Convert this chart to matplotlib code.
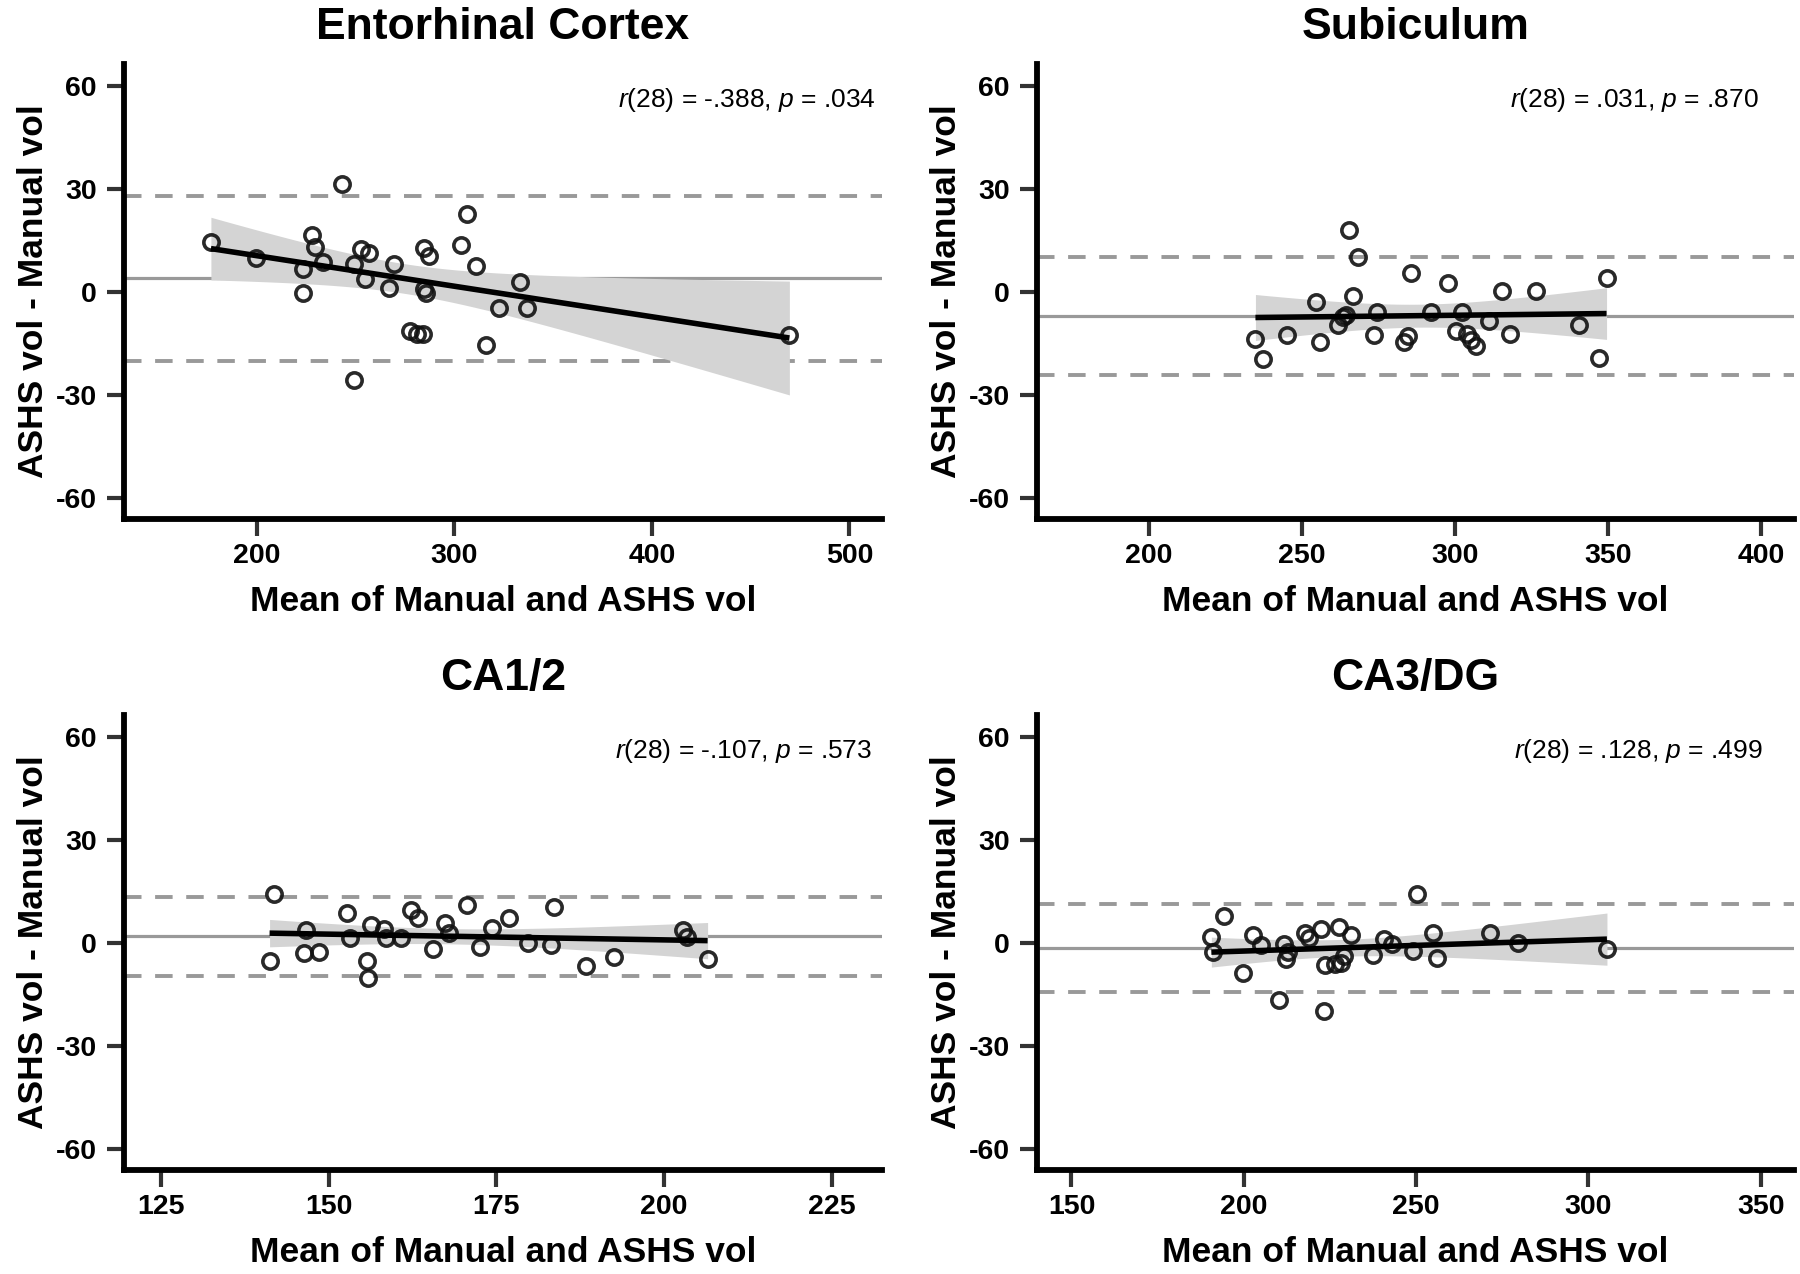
import numpy as np
import matplotlib
matplotlib.use("Agg")
import matplotlib.pyplot as plt

plt.rcParams["font.family"] = ["Liberation Sans", "DejaVu Sans"]
plt.rcParams["mathtext.fontset"] = "custom"
plt.rcParams["mathtext.it"] = "Liberation Sans:italic"
plt.rcParams["mathtext.rm"] = "Liberation Sans"
plt.rcParams["axes.unicode_minus"] = False

# ---- data (mean of methods, difference) ----
ec_mean = [176.7, 199.4, 223.3, 223.1, 228.0, 229.2, 233.6, 242.9, 249.0, 249.3,
           252.5, 256.9, 254.9, 266.8, 269.2, 277.3, 280.8, 284.0, 284.6, 287.2,
           284.6, 285.8, 303.5, 306.4, 310.8, 315.8, 322.8, 333.4, 336.8, 469.6]
ec_diff = [14.7, 10.0, 6.9, -0.2, 16.6, 13.1, 8.9, 31.6, 8.3, -25.4,
           12.6, 11.6, 4.0, 1.4, 8.3, -11.1, -12.2, -12.2, 12.9, 10.6,
           1.0, -0.2, 13.9, 22.7, 7.6, -15.3, -4.4, 3.1, -4.6, -12.5]

sub_mean = [234.9, 237.5, 245.2, 254.6, 255.9, 261.9, 263.4, 264.4, 265.5, 266.8,
            268.5, 273.5, 274.5, 283.5, 284.6, 285.7, 292.3, 297.7, 300.2, 302.3,
            303.8, 305.3, 306.9, 311.1, 315.4, 318.0, 326.6, 340.5, 346.9, 349.5]
sub_diff = [-13.5, -19.5, -12.3, -2.8, -14.5, -9.6, -7.3, -6.7, 18.3, -0.9,
            10.4, -12.5, -5.7, -14.3, -12.7, 5.7, -5.8, 2.7, -11.1, -5.7,
            -12.2, -13.8, -15.5, -8.3, 0.3, -12.1, 0.4, -9.4, -19.2, 4.3]

ca12_mean = [141.2, 141.9, 146.3, 146.6, 148.6, 152.8, 153.2, 155.7, 155.9, 156.3,
             158.2, 158.5, 160.8, 162.3, 163.3, 165.5, 167.3, 168.0, 170.6, 172.5,
             174.3, 176.9, 179.7, 183.2, 183.6, 188.4, 192.6, 202.9, 203.4, 206.5]
ca12_diff = [-5.2, 14.5, -2.8, 4.0, -2.5, 8.8, 1.6, -5.2, -10.2, 5.4,
             4.3, 1.5, 1.6, 9.7, 7.4, -1.7, 5.9, 2.9, 11.1, -0.9,
             4.6, 7.3, 0.2, -0.6, 10.5, -6.6, -3.9, 4.0, 1.8, -4.4]

ca3_mean = [190.6, 191.1, 194.3, 199.8, 202.6, 205.1, 210.2, 211.8, 212.2, 212.8,
            217.8, 219.0, 222.3, 223.2, 223.5, 226.4, 227.7, 228.2, 229.0, 231.2,
            237.6, 240.6, 243.1, 249.1, 250.3, 254.8, 256.1, 271.6, 279.7, 305.4]
ca3_diff = [1.8, -2.5, 8.1, -8.6, 2.4, -0.6, -16.5, -0.3, -4.4, -2.5,
            3.1, 1.6, 4.3, -19.7, -6.3, -6.0, 4.7, -5.7, -3.8, 2.4,
            -3.3, 1.3, -0.1, -2.2, 14.5, 3.1, -4.3, 2.9, 0.1, -1.6]

titles = ["Entorhinal Cortex", "Subiculum", "CA1/2", "CA3/DG"]
stats = [("-.388", ".034"), (".031", ".870"), ("-.107", ".573"), (".128", ".499")]
x_ticks = [[200, 300, 400, 500], [200, 250, 300, 350, 400],
           [125, 150, 175, 200, 225], [150, 200, 250, 300, 350]]
x_lims = [(132.7, 516.5), (163.6, 410.7), (119.5, 232.5), (140.0, 359.7)]
y_ticks = [-60, -30, 0, 30, 60]
panel_data = [(ec_mean, ec_diff), (sub_mean, sub_diff),
              (ca12_mean, ca12_diff), (ca3_mean, ca3_diff)]
text_x = [0.992, 0.954, 0.987, 0.958]

T_CRIT = 2.0484  # t(0.975, df=28)


def fit_band(x, y, grid):
    """OLS fit with 95% confidence band for the mean"""
    n = len(x)
    slope, icpt = np.polyfit(x, y, 1)
    resid = y - (slope * x + icpt)
    s = np.sqrt(np.sum(resid**2) / (n - 2))
    se = s * np.sqrt(1 / n + (grid - x.mean())**2 / np.sum((x - x.mean())**2))
    fit = slope * grid + icpt
    return fit, fit - T_CRIT * se, fit + T_CRIT * se


def draw_panel(ax, x, y, title, xlim, xticks, stat, tx):
    x = np.asarray(x, float)
    y = np.asarray(y, float)
    bias = y.mean()
    sd = y.std(ddof=1)

    # limits of agreement and bias
    ax.axhline(bias, color="#999999", lw=2.3, zorder=1)
    for lim in (bias + 1.96 * sd, bias - 1.96 * sd):
        ax.axhline(lim, color="#999999", lw=2.8, ls=(0, (4.5, 3.5)), zorder=1)

    # regression with CI band
    grid = np.linspace(x.min(), x.max(), 200)
    fit, lo, hi = fit_band(x, y, grid)
    ax.fill_between(grid, lo, hi, color="#d4d4d4", lw=0, zorder=2)
    ax.plot(grid, fit, color="black", lw=4.0, zorder=4, solid_capstyle="butt")

    ax.plot(x, y, "o", ms=11, mfc="none", mec="#111111", mew=2.6, alpha=0.9, zorder=3)

    ax.set_xlim(*xlim)
    ax.set_ylim(-66, 66.5)
    ax.set_xticks(xticks)
    ax.set_yticks(y_ticks)

    for side in ("top", "right"):
        ax.spines[side].set_visible(False)
    for side in ("left", "bottom"):
        ax.spines[side].set_linewidth(4.2)
        ax.spines[side].set_color("black")
    ax.tick_params(axis="both", length=12.5, width=3, color="#333333",
                   labelsize=20.5)
    ax.tick_params(axis="y", pad=7)
    ax.tick_params(axis="x", pad=5)
    for lab in ax.get_xticklabels() + ax.get_yticklabels():
        lab.set_fontweight("bold")

    ax.set_xlabel("Mean of Manual and ASHS vol", fontsize=25.5, fontweight="bold",
                  labelpad=11)
    ax.set_ylabel("ASHS vol - Manual vol", fontsize=25.5, fontweight="bold",
                  labelpad=4)
    ax.set_title(title, fontsize=32, fontweight="bold", pad=18)

    r_val, p_val = stat
    ax.text(tx, 0.92, rf"$\it{{r}}$(28) = {r_val}, $\it{{p}}$ = {p_val}",
            transform=ax.transAxes, ha="right", va="center", fontsize=19)


fig = plt.figure(figsize=(18, 12.74), dpi=100)
positions = [
    [0.0689, 0.5926, 0.4211, 0.3571],
    [0.5761, 0.5926, 0.4206, 0.3571],
    [0.0689, 0.0816, 0.4211, 0.3571],
    [0.5761, 0.0816, 0.4206, 0.3571],
]

for i, pos in enumerate(positions):
    ax = fig.add_axes(pos)
    mx, dy = panel_data[i]
    draw_panel(ax, mx, dy, titles[i], x_lims[i], x_ticks[i], stats[i], text_x[i])

fig.savefig("out.png", dpi=100)
